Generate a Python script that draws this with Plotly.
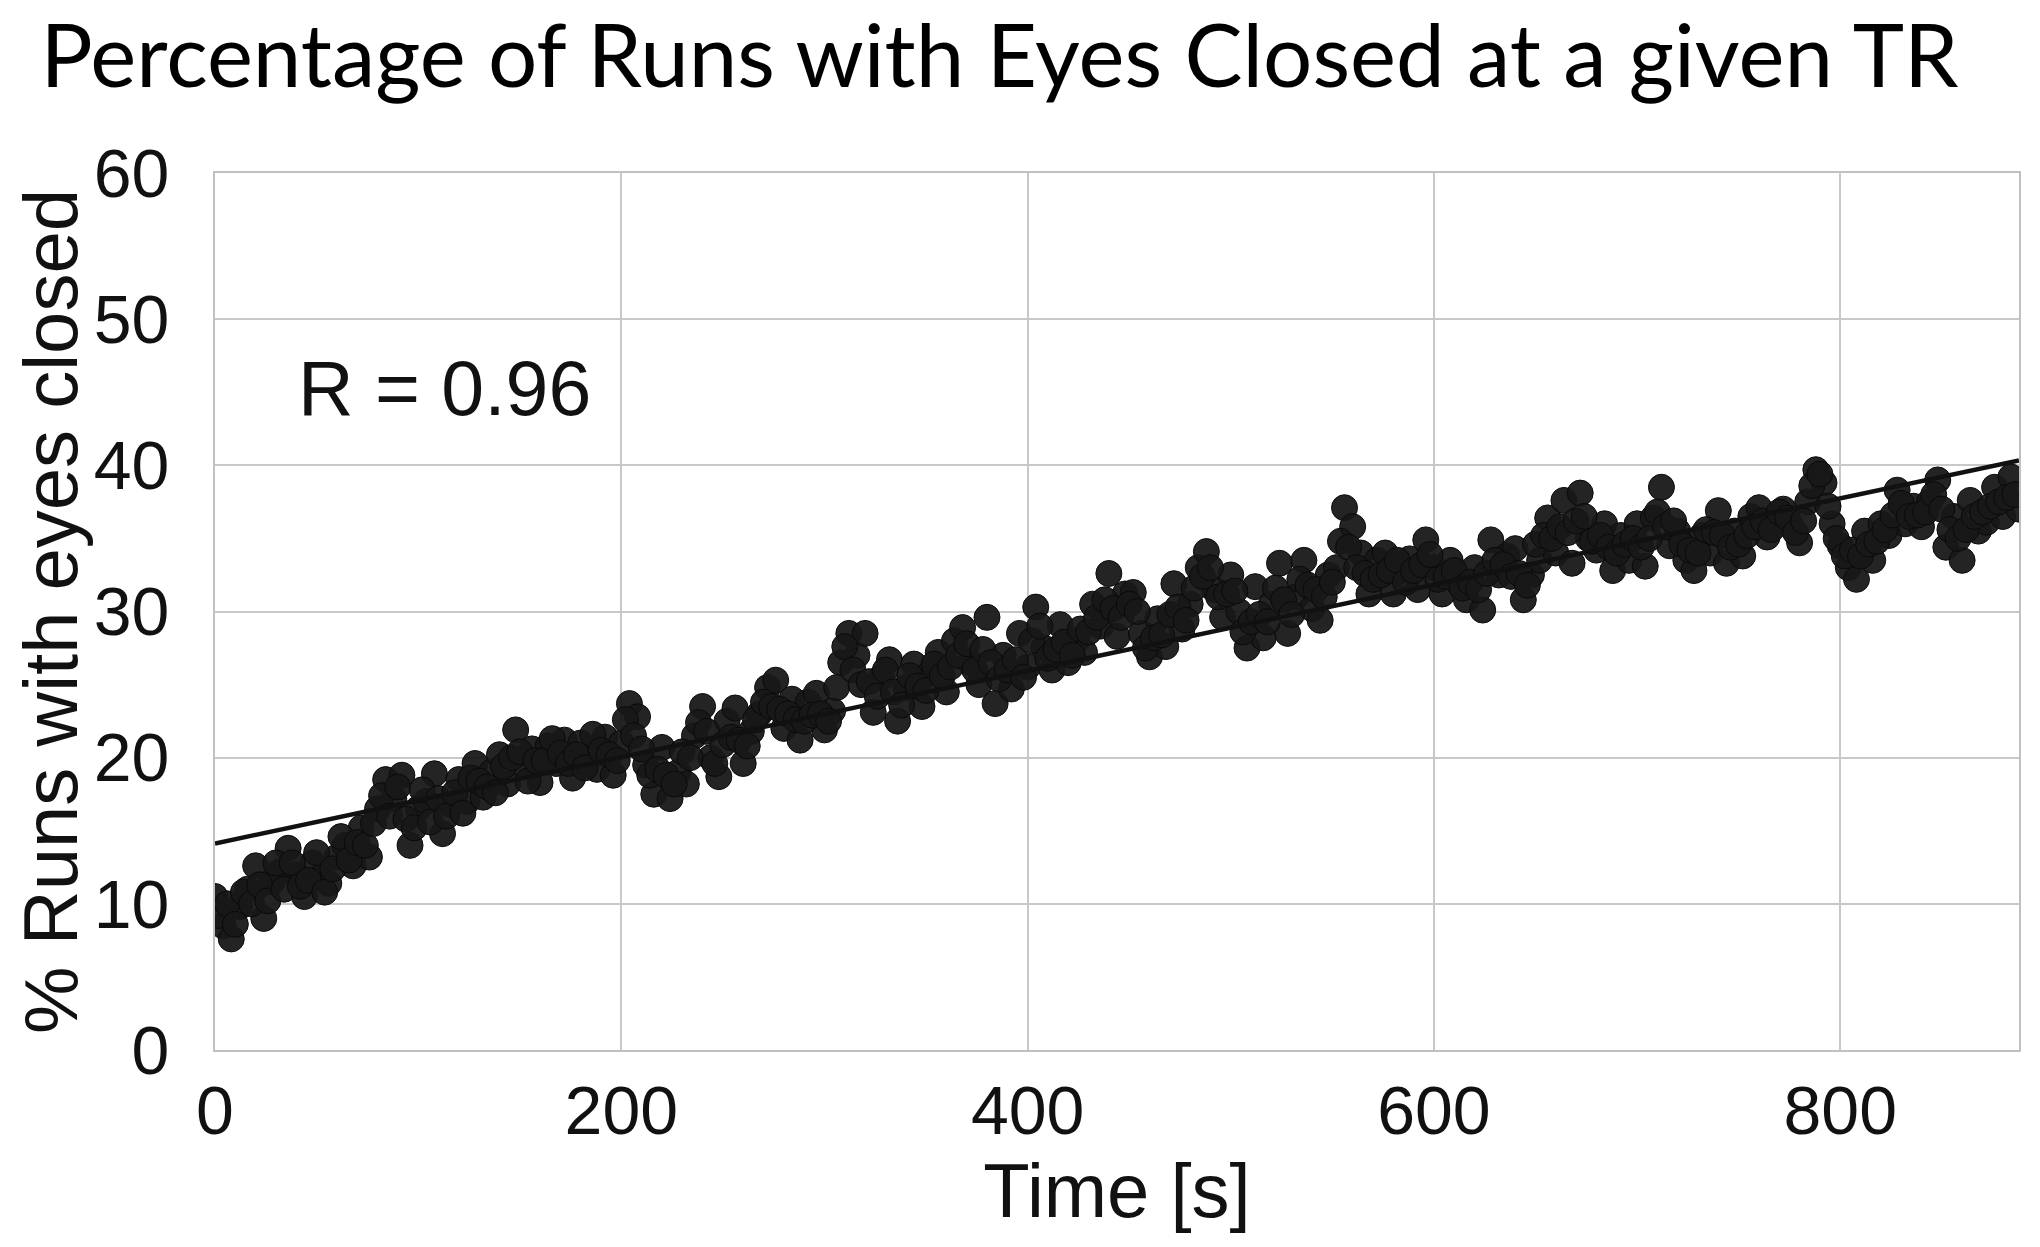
import numpy as np
import plotly.graph_objects as go

# sample times (s): one set every 4 s, a second set half way between
time_a = list(range(0, 889, 4))
time_b = list(range(2, 887, 4))

# % runs with eyes closed
pct_a = [
    10.5, 8.5, 7.6, 9.8, 11.0, 12.6, 9.0, 11.5, 12.2, 13.8,
    12.0, 10.5, 12.8, 11.8, 11.4, 13.2, 14.0, 12.6, 15.2, 13.2,
    16.5, 18.5, 17.2, 18.8, 14.0, 16.5, 17.0, 18.9, 14.8, 16.8,
    18.5, 17.0, 19.6, 17.3, 19.0, 20.2, 18.2, 21.9, 19.5, 20.6,
    18.3, 20.8, 19.6, 21.2, 18.6, 21.0, 20.0, 19.2, 21.4, 18.8,
    21.0, 23.7, 22.8, 19.5, 17.5, 20.7, 17.2, 19.0, 18.2, 21.5,
    23.5, 20.0, 18.7, 22.5, 23.4, 19.6, 21.8, 23.0, 24.8, 25.3,
    22.0, 24.0, 21.2, 23.8, 24.4, 21.9, 23.2, 26.5, 28.5, 27.0,
    28.5, 23.1, 25.5, 26.7, 22.5, 24.8, 26.4, 23.5, 25.8, 27.2,
    24.5, 28.0, 28.9, 26.5, 25.0, 29.6, 23.7, 27.0, 24.7, 28.5,
    26.2, 30.3, 27.5, 26.0, 29.1, 26.5, 28.0, 27.2, 30.5, 29.0,
    32.6, 28.3, 31.2, 31.3, 28.5, 26.9, 29.5, 27.6, 31.9, 28.8,
    30.5, 33.0, 34.1, 31.5, 29.6, 32.5, 30.0, 27.5, 31.7, 28.2,
    30.5, 33.3, 28.5, 31.0, 33.5, 30.2, 29.4, 32.5, 33.0, 37.1,
    35.8, 34.0, 31.2, 33.5, 34.0, 31.2, 32.8, 33.6, 31.5, 34.9,
    33.0, 31.2, 33.5, 32.0, 30.8, 33.0, 30.1, 34.9, 32.5, 33.8,
    34.3, 30.8, 32.5, 33.5, 36.4, 34.0, 37.6, 33.3, 38.1, 35.0,
    34.2, 36.0, 32.8, 35.2, 33.5, 36.0, 33.1, 36.4, 38.5, 34.5,
    35.5, 33.5, 32.8, 35.2, 34.0, 36.9, 33.3, 35.5, 33.8, 36.5,
    37.1, 35.1, 36.2, 37.0, 35.8, 34.7, 37.5, 39.7, 38.8, 36.0,
    34.5, 33.0, 32.2, 35.5, 33.5, 36.0, 35.2, 38.3, 36.0, 37.2,
    35.8, 37.5, 39.0, 34.4, 36.5, 33.5, 37.6, 35.5, 36.1, 38.5,
    36.5, 39.2, 37.0,
]
pct_b = [
    9.2, 10.0, 8.6, 10.8, 10.0, 11.3, 10.2, 12.8, 11.0, 12.8,
    11.2, 11.6, 13.5, 10.8, 12.4, 14.6, 13.0, 14.2, 14.0, 15.5,
    17.4, 16.0, 18.0, 15.8, 15.2, 17.8, 15.6, 17.2, 16.0, 17.6,
    16.2, 18.6, 18.4, 18.0, 17.6, 19.4, 20.0, 20.4, 18.4, 19.8,
    19.8, 21.3, 20.3, 19.6, 20.2, 19.3, 21.6, 20.5, 20.2, 19.8,
    22.6, 21.5, 20.6, 18.8, 19.2, 18.8, 18.2, 20.4, 20.0, 22.4,
    21.8, 19.6, 20.9, 21.4, 21.2, 20.8, 22.6, 23.8, 23.5, 23.3,
    23.0, 22.6, 22.5, 22.9, 23.0, 22.5, 24.8, 27.6, 26.0, 25.0,
    25.2, 24.2, 26.0, 24.5, 23.6, 25.6, 24.9, 24.6, 26.4, 25.6,
    26.2, 27.0, 27.8, 26.0, 27.4, 26.5, 25.4, 26.0, 26.7, 25.5,
    28.0, 29.0, 26.8, 27.4, 27.9, 27.0, 28.8, 28.6, 29.6, 30.8,
    30.2, 29.6, 30.5, 30.0, 27.5, 28.2, 28.4, 29.8, 30.3, 29.4,
    31.6, 32.4, 33.0, 31.0, 31.2, 31.4, 28.6, 29.3, 29.8, 29.3,
    31.6, 30.8, 29.8, 32.2, 31.8, 31.5, 31.0, 32.0, 34.8, 34.4,
    33.0, 32.6, 32.2, 32.5, 32.8, 33.5, 32.0, 32.8, 33.2, 33.9,
    32.2, 32.4, 32.8, 31.6, 32.0, 31.5, 32.6, 33.5, 33.2, 32.4,
    32.6, 31.8, 34.6, 35.2, 35.0, 35.8, 35.4, 36.2, 36.5, 34.8,
    35.2, 34.4, 34.0, 34.6, 35.0, 34.4, 35.0, 36.8, 35.8, 36.2,
    34.6, 34.2, 34.0, 35.6, 35.4, 35.2, 34.4, 34.6, 35.2, 35.8,
    36.2, 35.6, 36.8, 36.4, 35.4, 36.2, 38.6, 39.4, 37.2, 35.0,
    33.8, 34.2, 33.8, 34.6, 34.8, 35.6, 36.6, 37.4, 36.5, 36.6,
    36.8, 38.0, 37.0, 35.6, 35.0, 35.6, 36.5, 36.8, 37.2, 37.5,
    37.8, 38.0,
]

x_ticks = [0, 200, 400, 600, 800]
y_ticks = [0, 10, 20, 30, 40, 50, 60]

time_s = time_a + time_b
pct_closed = pct_a + pct_b

# linear fit
slope, icept = np.polyfit(time_s, pct_closed, 1)
fit_x = [0, 888]
fit_y = [icept + slope * v for v in fit_x]

fig = go.Figure()
fig.add_trace(go.Scatter(
    x=time_s, y=pct_closed, mode='markers',
    marker=dict(size=26, color='rgba(24,24,24,0.95)',
                line=dict(color='rgba(10,10,10,1)', width=1)),
    showlegend=False))
fig.add_trace(go.Scatter(
    x=fit_x, y=fit_y, mode='lines',
    line=dict(color='#111111', width=4.5), showlegend=False))

txt = dict(family='Liberation Sans, Arial', color='#111111')

# page body has an 8px margin, so the figure is 16px smaller than the window
fig.update_layout(
    width=2024, height=1231,
    margin=dict(l=207, r=11, t=165, b=189),
    paper_bgcolor='white', plot_bgcolor='white',
    title=dict(text='Percentage of Runs with Eyes Closed at a given TR',
               x=0.016, xanchor='left', y=0.985, yanchor='top',
               font=dict(family='Lato', size=87, color='#000000')),
    annotations=[dict(text='R = 0.96', x=0.045, y=0.755, xref='paper', yref='paper',
                      xanchor='left', yanchor='middle', showarrow=False,
                      font=dict(size=77, **txt))],
)
fig.update_xaxes(range=[0, 888], tickvals=x_ticks, showgrid=True, gridcolor='#c8c8c8',
                 gridwidth=2, showline=True, mirror=True, linecolor='#c0c0c0', linewidth=2,
                 zeroline=False, tickfont=dict(size=68, **txt), ticklabelstandoff=0,
                 title=dict(text='Time [s]', font=dict(size=76, **txt), standoff=12))
fig.update_yaxes(range=[0, 60], tickvals=y_ticks, showgrid=True, gridcolor='#c8c8c8',
                 gridwidth=2, showline=True, mirror=True, linecolor='#c0c0c0', linewidth=2,
                 zeroline=False, tickfont=dict(size=68, **txt), ticklabelstandoff=30,
                 title=dict(text='% Runs with eyes closed', font=dict(size=76, **txt), standoff=16))

fig.write_html('out.html')
